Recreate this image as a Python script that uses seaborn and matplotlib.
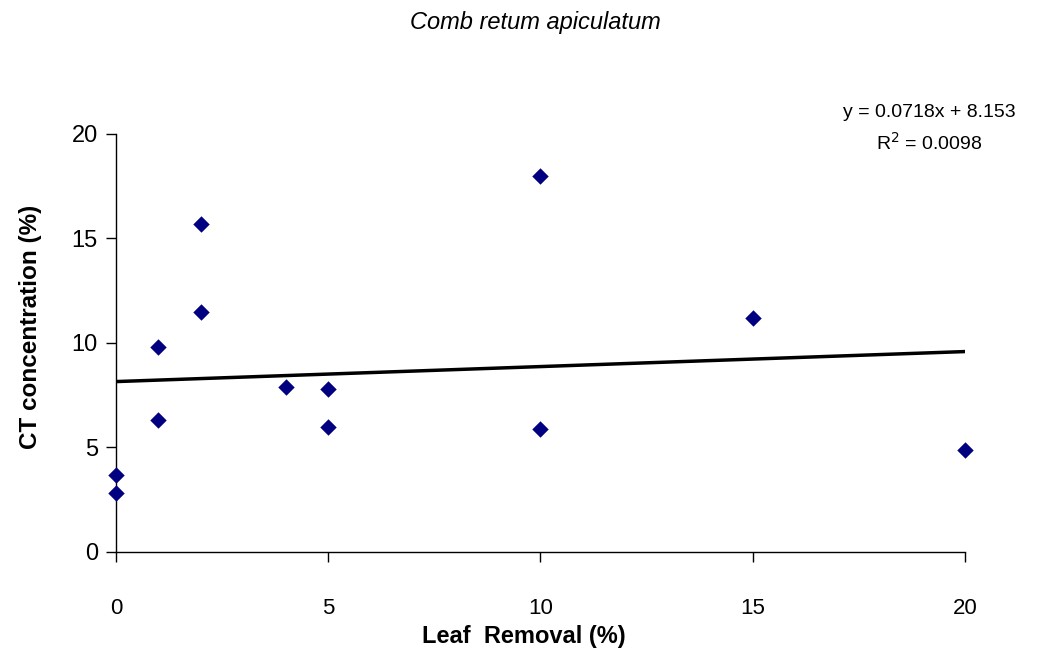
import matplotlib
matplotlib.use("Agg")
import matplotlib.pyplot as plt
import seaborn as sns
import numpy as np
import pandas as pd

leaf_removal = [0, 0, 1, 1, 2, 2, 4, 5, 5, 10, 10, 15, 20]
ct_conc = [3.7, 2.8, 9.8, 6.3, 15.7, 11.5, 7.9, 7.8, 6.0, 18.0, 5.9, 11.2, 4.9]
slope = 0.0718
intercept = 8.153
x_ticks = [0, 5, 10, 15, 20]
y_ticks = [0, 5, 10, 15, 20]

sns.set_style("white")
plt.rcParams['font.family'] = ['Liberation Sans', 'DejaVu Sans']
plt.rcParams['text.color'] = 'black'
plt.rcParams['axes.labelcolor'] = 'black'

fig = plt.figure(figsize=(10.42, 6.51), dpi=100)
ax = fig.add_axes([0.1113, 0.1521, 0.8148, 0.6421])

df = pd.DataFrame({"x": leaf_removal, "y": ct_conc})
sns.scatterplot(data=df, x="x", y="y", marker="D", s=70, color="#000080",
                edgecolor="#000080", linewidth=0, ax=ax, zorder=3, clip_on=False)

fit_x = np.array([min(x_ticks), max(x_ticks)])
fit_df = pd.DataFrame({"x": fit_x, "y": slope * fit_x + intercept})
sns.lineplot(data=fit_df, x="x", y="y", color="black", linewidth=2.5, ax=ax, zorder=2)

ax.set_xlim(0, 20)
ax.set_ylim(0, 20)
ax.set_xticks(x_ticks)
ax.set_yticks(y_ticks)
ax.tick_params(axis='both', direction='out', length=7, width=1,
               bottom=True, left=True, colors='black')
ax.tick_params(axis='x', pad=26, labelsize=16)
ax.tick_params(axis='y', pad=6, labelsize=17)
for s in ['top', 'right']:
    ax.spines[s].set_visible(False)
for s in ['left', 'bottom']:
    ax.spines[s].set_color('black')
    ax.spines[s].set_linewidth(1)
ax.set_xlabel("Leaf  Removal (%)", fontsize=17, fontweight='bold', va='center')
ax.xaxis.set_label_coords(0.48, -0.203)
ax.set_ylabel("CT concentration (%)", fontsize=17.5, fontweight='bold', va='center')
ax.yaxis.set_label_coords(-0.101, 0.538)
ax.grid(False)

fig.text(0.514, 0.966, "Comb retum apiculatum", fontsize=17, style='italic',
         ha='center', va='center')
fig.text(0.892, 0.827, "y = 0.0718x + 8.153", fontsize=14, ha='center', va='center')
fig.text(0.892, 0.780, "R$^2$ = 0.0098", fontsize=14, ha='center', va='center')

fig.savefig("out.png", dpi=100)
